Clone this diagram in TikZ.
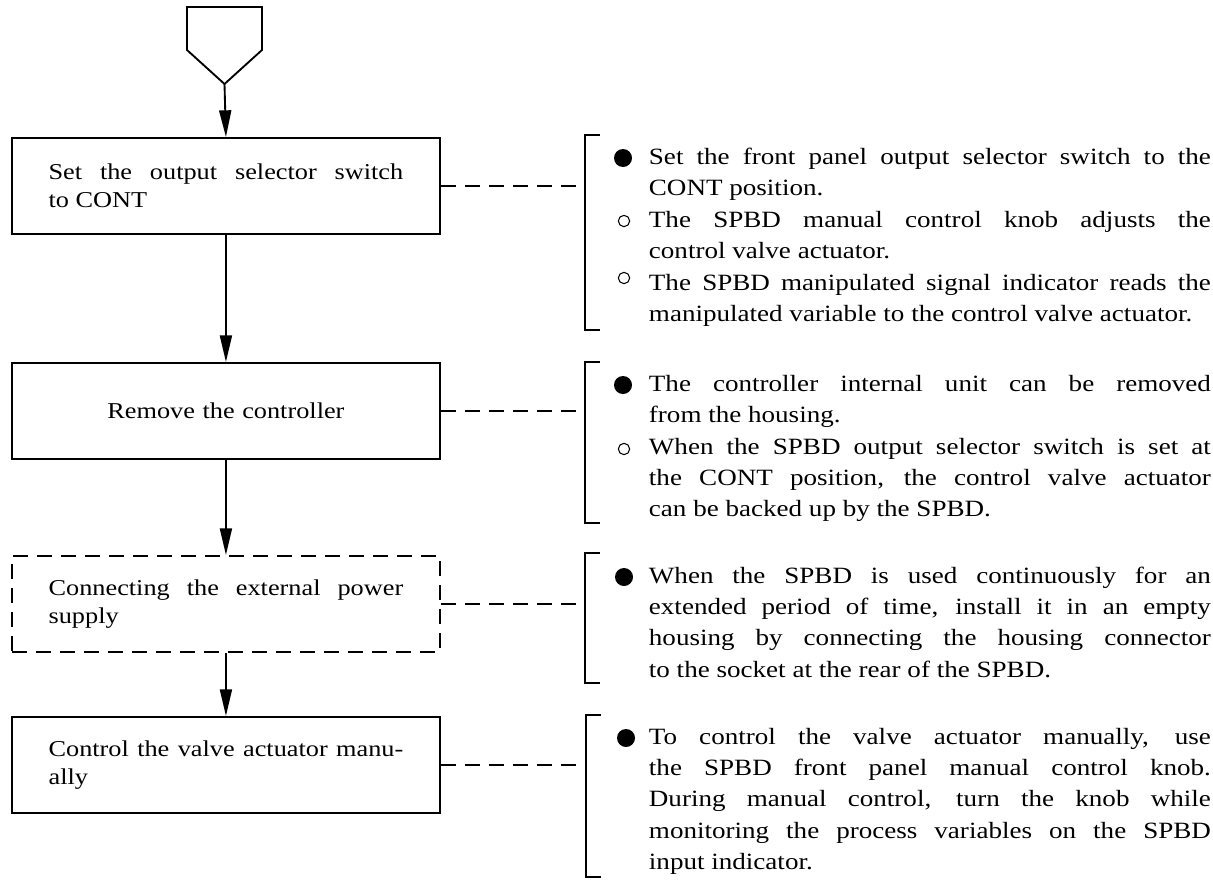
\documentclass[tikz,border=0pt]{standalone}
\usepackage{fontspec}
\setmainfont{Liberation Serif}[FakeStretch=1.16]
\usetikzlibrary{arrows.meta}

% justified note paragraph, first baseline = node base
\newcommand\notepar[1]{\parbox[t]{421.5pt}{\fontsize{17.5}{23.6}\selectfont
  \tolerance=9999\hyphenpenalty=10000\parindent=0pt #1}}

\begin{document}
\begin{tikzpicture}[x=0.75pt,y=-0.75pt,line width=1.4pt,
  stepbox/.style={draw,rectangle,anchor=north west,minimum width=321pt,
    minimum height=72pt,inner xsep=27pt,inner ysep=0pt,text width=266pt,
    align=justify,font=\fontsize{17}{21}\selectfont},
  optbox/.style={stepbox,dash pattern=on 11pt off 7pt},
  flow/.style={-{Triangle[length=20pt,width=9pt]}},
  link/.style={dash pattern=on 11pt off 7pt},
  bracket/.style={line width=1.4pt},
  note/.style={anchor=base west,inner sep=0pt},
  solid dot/.style={circle,fill,inner sep=0pt,minimum size=13.5pt},
  open dot/.style={circle,draw,line width=0.8pt,inner sep=0pt,minimum size=8.5pt}]

\useasboundingbox (0,0) rectangle (1213,881);

% entry connector symbol
\draw (187,7) -- (262,7) -- (262,50) -- (224.5,84) -- (187,50) -- cycle;
\coordinate (entry) at (224.5,84);

% procedure steps
\node[stepbox] (s1) at (11,137) {Set the output selector switch\linebreak to CONT};
\node[stepbox,align=center] (s2) at (11,362) {Remove the controller};
\node[optbox] (s3) at (11,555) {Connecting the external power\linebreak supply};
\node[stepbox] (s4) at (11,716) {Control the valve actuator manu-\linebreak ally};

% flow arrows
\draw[flow] (entry) -- (s1.north);
\draw[flow] (s1.south) -- (s2.north);
\draw[flow] (s2.south) -- (s3.north);
\draw[flow] (s3.south) -- (s4.north);

% brackets grouping the notes
\coordinate (b1t) at (585,135); \coordinate (b1b) at (585,330);
\coordinate (b2t) at (585,362); \coordinate (b2b) at (585,523);
\coordinate (b3t) at (585,553); \coordinate (b3b) at (585,683);
\coordinate (b4t) at (586,715); \coordinate (b4b) at (586,877);
\foreach \b in {1,2,3,4}
  \draw[bracket] ([xshift=11pt]b\b t) -- (b\b t) -- (b\b b) -- ([xshift=11pt]b\b b);

% dashed links from the steps to their notes
\draw[link] (s1.east) -- (s1.east -| b1t);
\draw[link] (s2.east) -- (s2.east -| b2t);
\draw[link] (s3.east) -- (s3.east -| b3t);
\draw[link] (s4.east) -- (s4.east -| b4t);

% notes for step 1
\node[solid dot] (d1a) at (623,158) {};
\node[note] (n1a) at (648,164) {\notepar{Set the front panel output selector switch to the\linebreak CONT position.}};
\node[open dot] (d1b) at (624,221) {};
\node[note] (n1b) at (648,227) {\notepar{The SPBD manual control knob adjusts the\linebreak control valve actuator.}};
\node[open dot] (d1c) at (624,278) {};
\node[note] (n1c) at (648,290) {\notepar{The SPBD manipulated signal indicator reads the\linebreak manipulated variable to the control valve actuator.}};

% notes for step 2
\node[solid dot] (d2a) at (623,385) {};
\node[note] (n2a) at (648,391) {\notepar{The controller internal unit can be removed\linebreak from the housing.}};
\node[open dot] (d2b) at (624,449) {};
\node[note] (n2b) at (648,454) {\notepar{When the SPBD output selector switch is set at\linebreak the CONT position, the control valve actuator\linebreak can be backed up by the SPBD.}};

% notes for step 3
\node[solid dot] (d3a) at (624,577) {};
\node[note] (n3a) at (648,583) {\notepar{When the SPBD is used continuously for an\linebreak extended period of time, install it in an empty\linebreak housing by connecting the housing connector\linebreak to the socket at the rear of the SPBD.}};

% notes for step 4
\node[solid dot] (d4a) at (626,738) {};
\node[note] (n4a) at (648,744) {\notepar{To control the valve actuator manually, use\linebreak the SPBD front panel manual control knob.\linebreak During manual control, turn the knob while\linebreak monitoring the process variables on the SPBD\linebreak input indicator.}};
\end{tikzpicture}
\end{document}
